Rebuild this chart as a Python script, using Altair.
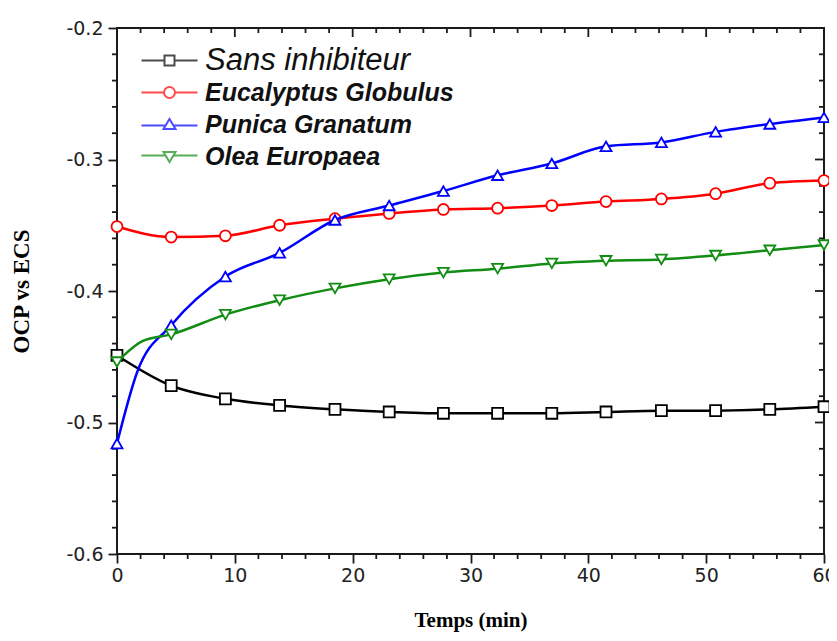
import altair as alt
import pandas as pd

# ---------------- data ----------------
series = ["Sans inhibiteur", "Eucalyptus Globulus", "Punica Granatum", "Olea Europaea"]
colors = ["#000000", "#ff0000", "#0000ff", "#128c12"]
plot_shapes = ["square", "circle", "triangle-up", "triangle-down"]

time_min = [0, 4.6, 9.2, 13.8, 18.5, 23.1, 27.7, 32.3, 36.9, 41.5, 46.2, 50.8, 55.4, 60]
sans = [-0.449, -0.472, -0.482, -0.487, -0.490, -0.492, -0.493, -0.493, -0.493, -0.492, -0.491, -0.491, -0.490, -0.488]
euca = [-0.351, -0.359, -0.358, -0.350, -0.345, -0.341, -0.338, -0.337, -0.335, -0.332, -0.330, -0.326, -0.318, -0.316]
punica = [-0.516, -0.426, -0.389, -0.371, -0.346, -0.335, -0.324, -0.312, -0.303, -0.290, -0.287, -0.279, -0.273, -0.268]
olea = [-0.454, -0.433, -0.418, -0.407, -0.398, -0.391, -0.386, -0.383, -0.379, -0.377, -0.376, -0.373, -0.369, -0.365]

# extra points of the curves that carry no marker
punica_extra_t = [1.7]
punica_extra_v = [-0.462]
olea_extra_t = [2.2]
olea_extra_v = [-0.438]

x_major = [0, 10, 20, 30, 40, 50, 60]
x_minor = [t for t in range(0, 61, 2) if t % 10 != 0]
y_major = [-0.6, -0.5, -0.4, -0.3, -0.2]
y_minor = [round(-0.6 + 0.02 * i, 2) for i in range(21) if i % 5 != 0]

# legend symbols: line + hollow marker (unit coordinates)
legend_paths = [
    "M-5.6,0H-1M1,0H5.6M-1,-1H1V1H-1Z",
    "M-5.6,0H-1.1M1.1,0H5.6M-1.1,0A1.1,1.1 0 1,0 1.1,0A1.1,1.1 0 1,0 -1.1,0Z",
    "M-5.6,0.2H-0.9M0.9,0.2H5.6M0,-1.1L1.2,0.9L-1.2,0.9Z",
    "M-5.6,-0.2H-0.9M0.9,-0.2H5.6M0,1.1L1.2,-0.9L-1.2,-0.9Z",
]

# ---------------- tables ----------------
rows = []
for name, vals in zip(series, [sans, euca, punica, olea]):
    for t, v in zip(time_min, vals):
        rows.append({"series": name, "t": t, "v": v, "marker": True})
for t, v in zip(punica_extra_t, punica_extra_v):
    rows.append({"series": "Punica Granatum", "t": t, "v": v, "marker": False})
for t, v in zip(olea_extra_t, olea_extra_v):
    rows.append({"series": "Olea Europaea", "t": t, "v": v, "marker": False})
df = pd.DataFrame(rows)

xscale = alt.Scale(domain=[0, 60], nice=False, zero=False)
yscale = alt.Scale(domain=[-0.6, -0.2], nice=False, zero=False)
INK = "#1a1a1a"
MAJOR, MINOR = 9, 5

base = alt.Chart(df)

main_x = alt.Axis(
    orient="bottom", values=x_major, tickSize=MAJOR, tickWidth=1.8, tickColor=INK,
    domain=False, grid=False, labelFlush=False,
    labelFont="DejaVu Sans", labelFontSize=19, labelColor="#222", labelPadding=3,
    title="Temps (min)", titleFont="Liberation Serif", titleFontWeight="bold",
    titleFontSize=21, titleColor="#000", titlePadding=24,
)
main_y = alt.Axis(
    orient="left", values=y_major, tickSize=MAJOR, tickWidth=1.8, tickColor=INK,
    labelExpr="'-' + format(abs(datum.value), '.1f')",
    domain=False, grid=False, labelFlush=False,
    labelFont="DejaVu Sans", labelFontSize=19, labelColor="#222", labelPadding=5,
    title="OCP vs ECS", titleFont="Liberation Serif", titleFontWeight="bold",
    titleFontSize=23, titleColor="#000", titlePadding=32,
)

axes_main = base.mark_point(opacity=0).encode(
    x=alt.X("t:Q", scale=xscale, axis=main_x),
    y=alt.Y("v:Q", scale=yscale, axis=main_y),
)


def x_ticks_layer(values, edge, length):
    # vertical tick segments on a horizontal frame edge (positive length = downwards)
    return alt.Chart(pd.DataFrame({"pos": values})).mark_rule(
        color=INK, strokeWidth=1.8, y2Offset=length
    ).encode(
        x=alt.X("pos:Q", scale=xscale, axis=None),
        y=alt.YDatum(edge, type="quantitative", scale=yscale, axis=None),
        y2=alt.Y2Datum(edge),
    )


def y_ticks_layer(values, edge, length):
    # horizontal tick segments on a vertical frame edge (negative length = leftwards)
    return alt.Chart(pd.DataFrame({"pos": values})).mark_rule(
        color=INK, strokeWidth=1.8, x2Offset=length
    ).encode(
        y=alt.Y("pos:Q", scale=yscale, axis=None),
        x=alt.XDatum(edge, type="quantitative", scale=xscale, axis=None),
        x2=alt.X2Datum(edge),
    )


tick_layers = [
    x_ticks_layer(x_minor, -0.6, MINOR),      # bottom minor, outward
    x_ticks_layer(x_major, -0.2, MAJOR),      # top major, inward
    x_ticks_layer(x_minor, -0.2, MINOR),      # top minor, inward
    y_ticks_layer(y_minor, 0, -MINOR),        # left minor, outward
    y_ticks_layer(y_major, 60, -MAJOR),       # right major, inward
    y_ticks_layer(y_minor, 60, -MINOR),       # right minor, inward
]

series_layers = []
for name, col, shp in zip(series, colors, plot_shapes):
    sub = base.transform_filter(alt.datum.series == name)
    series_layers.append(
        sub.mark_line(strokeWidth=2.5, interpolate="monotone", color=col).encode(
            x=alt.X("t:Q", scale=xscale, axis=None),
            y=alt.Y("v:Q", scale=yscale, axis=None),
        )
    )
    series_layers.append(
        sub.transform_filter(alt.datum.marker)
        .mark_point(filled=False, fill="white", stroke=col, strokeWidth=1.8,
                    size=120, opacity=1, shape=shp)
        .encode(
            x=alt.X("t:Q", scale=xscale, axis=None),
            y=alt.Y("v:Q", scale=yscale, axis=None),
        )
    )

leg = alt.Legend(
    title=None, orient="none", legendX=40, legendY=20, padding=0,
    symbolSize=100, symbolStrokeWidth=2, symbolFillColor="white",
    labelFont="Liberation Sans", labelFontStyle="italic",
    labelFontWeight=alt.ExprRef(expr="datum.value == 'Sans inhibiteur' ? 'normal' : 'bold'"),
    labelFontSize=alt.ExprRef(expr="datum.value == 'Sans inhibiteur' ? 31 : 25"),
    labelColor="#111", labelOffset=23, rowPadding=4, gridAlign="all", labelLimit=400,
)

legend_layer = base.transform_filter("false").mark_point(
    filled=False, fill="white", strokeWidth=2, size=100
).encode(
    x=alt.X("t:Q", scale=xscale, axis=None),
    y=alt.Y("v:Q", scale=yscale, axis=None),
    color=alt.Color("series:N", scale=alt.Scale(domain=series, range=colors), legend=leg),
    shape=alt.Shape("series:N", scale=alt.Scale(domain=series, range=legend_paths), legend=leg),
)

chart = alt.layer(
    axes_main, *tick_layers, *series_layers, legend_layer
).resolve_axis(
    x="independent", y="independent"
).properties(
    width=707, height=526,
    autosize=alt.AutoSizeParams(type="none"),
    padding={"left": 109, "top": 20, "right": 5, "bottom": 79},
    background="white",
).configure_view(stroke=INK, strokeWidth=2)

chart.save("out.html", embed_options={"renderer": "svg", "actions": False})
